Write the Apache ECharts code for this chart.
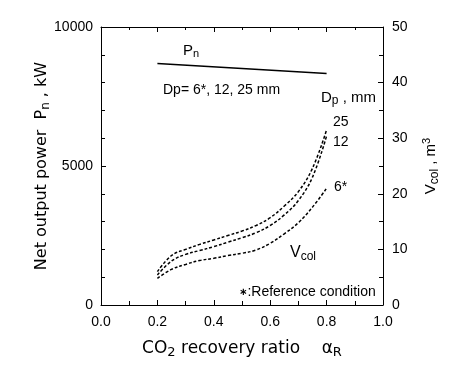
<!DOCTYPE html>
<html><head><meta charset="utf-8">
<script src="https://cdn.jsdelivr.net/npm/echarts@6/dist/echarts.min.js"></script>
<style>html,body{margin:0;padding:0;background:#fff}#c{width:450px;height:368px}</style>
</head><body><div id="c"></div>
<script>
// ---- data ----
const ratioX = [0.2, 0.25, 0.3, 0.35, 0.4, 0.45, 0.5, 0.55, 0.6, 0.65, 0.7, 0.75, 0.8];
const vcolDp25 = [6.0, 8.9, 10.0, 10.9, 11.7, 12.5, 13.3, 14.3, 15.7, 17.8, 20.4, 24.6, 31.5];
const vcolDp12 = [5.4, 7.9, 9.1, 9.8, 10.5, 11.3, 12.1, 13.0, 14.3, 16.2, 18.8, 23.0, 30.4];
const vcolDp6  = [4.8, 6.4, 7.3, 8.0, 8.4, 8.9, 9.3, 9.9, 11.1, 12.8, 14.8, 17.6, 21.0];
const pnX = [0.2, 0.5, 0.8];
const pnValues = [8690, 8510, 8330];
const xTicks = [0, 0.2, 0.4, 0.6, 0.8, 1.0];
const leftTicks = [0, 5000, 10000];
const rightTicks = [0, 10, 20, 30, 40, 50];

const pair = (xs, ys) => xs.map((x, i) => [x, ys[i]]);
const tickFont = {color: '#000', fontSize: 14, fontFamily: 'Liberation Sans, Arial, sans-serif'};
const nameFont = 'DejaVu Sans, sans-serif';
const black = {color: '#000', width: 1};

const chart = echarts.init(document.getElementById('c'), null, {renderer: 'canvas'});
const dashed = {color: '#000', width: 1.5, type: [3, 2]};
chart.setOption({
  animation: false,
  backgroundColor: '#fff',
  grid: {left: 101, right: 67, top: 27, bottom: 63, show: false},
  xAxis: [{
    type: 'value', min: 0, max: 1, interval: 0.2, position: 'bottom',
    axisLine: {show: true, onZero: false, lineStyle: black},
    axisTick: {inside: true, length: 5, lineStyle: black},
    minorTick: {show: true, splitNumber: 2, length: 4, lineStyle: black},
    splitLine: {show: false},
    axisLabel: Object.assign({margin: 10, formatter: v => xTicks.includes(+v.toFixed(1)) ? v.toFixed(1) : ''}, tickFont),
    name: '{a|CO}{s|2}{a| recovery ratio    }{g|α}{s|R}',
    nameLocation: 'middle', nameGap: 33, nameMoveOverlap: false,
    nameTextStyle: {rich: {
      a: {fontSize: 17, fontFamily: nameFont, color: '#000'},
      g: {fontSize: 17, fontFamily: nameFont, color: '#000'},
      s: {fontSize: 13, fontFamily: nameFont, color: '#000', padding: [8, 0, 0, 0]}
    }}
  }, {
    type: 'value', min: 0, max: 1, interval: 0.2, position: 'top',
    axisLine: {show: true, onZero: false, lineStyle: black},
    axisTick: {inside: true, length: 5, lineStyle: black},
    minorTick: {show: true, splitNumber: 2, length: 3, lineStyle: black},
    splitLine: {show: false}, axisLabel: {show: false}
  }],
  yAxis: [{
    type: 'value', min: 0, max: 10000, interval: 5000, position: 'left',
    axisLine: {show: true, onZero: false, lineStyle: black},
    axisTick: {inside: true, length: 5, lineStyle: black},
    minorTick: {show: true, splitNumber: 5, length: 4, lineStyle: black},
    splitLine: {show: false},
    axisLabel: Object.assign({margin: 8, formatter: v => leftTicks.includes(v) ? String(v) : ''}, tickFont),
    name: '{a|Net output power  P}{s|n}{a| , kW}',
    nameLocation: 'middle', nameGap: 49, nameRotate: 90, nameMoveOverlap: false,
    nameTextStyle: {rich: {
      a: {fontSize: 16, fontFamily: nameFont, color: '#000'},
      s: {fontSize: 12, fontFamily: nameFont, color: '#000', padding: [8, 0, 0, 0]}
    }}
  }, {
    type: 'value', min: 0, max: 50, interval: 10, position: 'right',
    axisLine: {show: true, onZero: false, lineStyle: black},
    axisTick: {inside: true, length: 5, lineStyle: black},
    minorTick: {show: true, splitNumber: 2, length: 4, lineStyle: black},
    splitLine: {show: false},
    axisLabel: Object.assign({margin: 9, formatter: v => rightTicks.includes(v) ? String(v) : ''}, tickFont),
    name: '{a|V}{s|col}{a| , m}{p|3}',
    nameLocation: 'middle', nameGap: 38, nameRotate: 90, nameMoveOverlap: false,
    nameTextStyle: {rich: {
      a: {fontSize: 15, fontFamily: 'Liberation Sans, Arial, sans-serif', color: '#000'},
      s: {fontSize: 12, fontFamily: 'Liberation Sans, Arial, sans-serif', color: '#000', padding: [8, 0, 0, 0]},
      p: {fontSize: 11, fontFamily: 'Liberation Sans, Arial, sans-serif', color: '#000', padding: [0, 0, 8, 0]}
    }}
  }],
  series: [
    {type: 'line', name: 'Pn', xAxisIndex: 0, yAxisIndex: 0, data: pair(pnX, pnValues),
     showSymbol: false, lineStyle: {color: '#000', width: 1.5}},
    {type: 'line', name: 'Dp25', xAxisIndex: 0, yAxisIndex: 1, data: pair(ratioX, vcolDp25),
     smooth: 0.4, showSymbol: false, lineStyle: dashed},
    {type: 'line', name: 'Dp12', xAxisIndex: 0, yAxisIndex: 1, data: pair(ratioX, vcolDp12),
     smooth: 0.4, showSymbol: false, lineStyle: dashed},
    {type: 'line', name: 'Dp6', xAxisIndex: 0, yAxisIndex: 1, data: pair(ratioX, vcolDp6),
     smooth: 0.4, showSymbol: false, lineStyle: dashed}
  ],
  graphic: [
    {type: 'text', left: 183, top: 43, style: {text: '{a|P}{s|n}', rich: {
      a: {fontSize: 15, fontFamily: 'Liberation Sans, Arial', fill: '#000'},
      s: {fontSize: 11, fontFamily: 'Liberation Sans, Arial', fill: '#000', padding: [7, 0, 0, 0]}}}},
    {type: 'text', left: 163, top: 83, style: {text: 'Dp= 6*, 12, 25 mm', fontSize: 14, fontFamily: 'Liberation Sans, Arial', fill: '#000'}},
    {type: 'text', left: 321, top: 90, style: {text: '{a|D}{s|p}{a| , mm}', rich: {
      a: {fontSize: 15, fontFamily: 'Liberation Sans, Arial', fill: '#000'},
      s: {fontSize: 12, fontFamily: 'Liberation Sans, Arial', fill: '#000', padding: [6, 0, 0, 0]}}}},
    {type: 'text', left: 333, top: 115, style: {text: '25', fontSize: 14, fontFamily: 'Liberation Sans, Arial', fill: '#000'}},
    {type: 'text', left: 333, top: 135, style: {text: '12', fontSize: 14, fontFamily: 'Liberation Sans, Arial', fill: '#000'}},
    {type: 'text', left: 334, top: 180, style: {text: '6*', fontSize: 14, fontFamily: 'Liberation Sans, Arial', fill: '#000'}},
    {type: 'text', left: 290, top: 245, style: {text: '{a|V}{s|col}', rich: {
      a: {fontSize: 16, fontFamily: 'Liberation Sans, Arial', fill: '#000'},
      s: {fontSize: 12, fontFamily: 'Liberation Sans, Arial', fill: '#000', padding: [8, 0, 0, 0]}}}},
    {type: 'text', left: 239, top: 285, style: {text: '{m|∗}{a|:Reference condition}', rich: {
      m: {fontSize: 10, fontFamily: 'DejaVu Sans', fill: '#000', fontWeight: 'bold'},
      a: {fontSize: 14, fontFamily: 'Liberation Sans, Arial', fill: '#000'}}}}
  ]
});
</script></body></html>
